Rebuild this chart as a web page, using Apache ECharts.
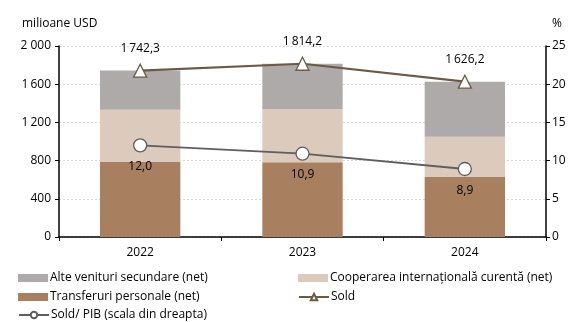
<!DOCTYPE html>
<html><head><meta charset="utf-8">
<script src="https://cdn.jsdelivr.net/npm/echarts@6/dist/echarts.min.js"></script>
<style>html,body{margin:0;padding:0;background:#fff}#c{width:571px;height:322px}</style>
</head><body><div id="c"></div>
<script>
var categories = ['2022', '2023', '2024'];
var transferuri = [785, 782, 628];
var cooperarea = [548, 555, 422];
var alte = [409.3, 477.2, 576.2];
var sold = [1742.3, 1814.2, 1626.2];
var soldPib = [12.0, 10.9, 8.9];

var FONT = 'Open Sans';
function fmt(v, d) {
  var s = v.toFixed(d).replace('.', ',');
  var parts = s.split(',');
  var ip = parts[0];
  if (ip.length > 3) ip = ip.slice(0, ip.length - 3) + '\u2009' + ip.slice(ip.length - 3);
  return parts.length > 1 ? ip + ',' + parts[1] : ip;
}
function leg(name, left, top, icon) {
  var d = {name: name};
  if (icon) d.icon = icon;
  return {
    left: left, top: top, itemWidth: 30, itemHeight: 8, padding: 0,
    textStyle: {fontFamily: FONT, fontSize: 12, color: '#000', padding: [0, 0, 0, -3]},
    data: [d]
  };
}
var chart = echarts.init(document.getElementById('c'));
chart.setOption({
  animation: false,
  textStyle: {fontFamily: FONT},
  grid: {left: 59, right: 25, top: 46, bottom: 85},
  legend: [
    leg('Alte venituri secundare (net)', 18, 272, 'rect'),
    leg('Transferuri personale (net)', 18, 291, 'rect'),
    leg('Sold/ PIB (scala din dreapta)', 18, 309),
    leg('Cooperarea internațională curentă (net)', 298, 272, 'rect'),
    leg('Sold', 298, 291)
  ],
  xAxis: {
    type: 'category', data: categories, boundaryGap: true,
    axisLine: {lineStyle: {color: '#000', width: 1.5}},
    axisTick: {show: true, length: 4, lineStyle: {color: '#000'}},
    axisLabel: {fontFamily: FONT, fontSize: 12, color: '#000', margin: 10}
  },
  yAxis: [{
    type: 'value', min: 0, max: 2000, interval: 400,
    name: 'milioane USD', nameLocation: 'end', nameGap: 16,
    nameTextStyle: {fontFamily: FONT, fontSize: 12, color: '#000', align: 'left', padding: [0, 0, 0, -37]},
    axisLine: {show: true, lineStyle: {color: '#000', width: 1.5}},
    axisTick: {show: true, length: 4, lineStyle: {color: '#000'}},
    axisLabel: {fontFamily: FONT, fontSize: 12, color: '#000', margin: 8,
      formatter: function (v) { return fmt(v, 0).replace('\u2009', v >= 2000 ? ' ' : '\u2009'); }},
    splitLine: {show: true, lineStyle: {color: '#d0d0d0', type: [2, 2], width: 0.8}}
  }, {
    type: 'value', min: 0, max: 25, interval: 5,
    name: '%', nameLocation: 'end', nameGap: 16,
    nameTextStyle: {fontFamily: FONT, fontSize: 12, color: '#000', align: 'left', padding: [0, 0, 0, 6]},
    axisLine: {show: true, lineStyle: {color: '#000', width: 1.5}},
    axisTick: {show: true, length: 4, lineStyle: {color: '#000'}},
    axisLabel: {fontFamily: FONT, fontSize: 12, color: '#000', margin: 6},
    splitLine: {show: false}
  }],
  series: [{
    name: 'Transferuri personale (net)', type: 'bar', stack: 't', barWidth: '49.5%',
    data: transferuri, itemStyle: {color: '#a88060'}
  }, {
    name: 'Cooperarea internațională curentă (net)', type: 'bar', stack: 't',
    data: cooperarea, itemStyle: {color: '#dccbbd'}
  }, {
    name: 'Alte venituri secundare (net)', type: 'bar', stack: 't',
    data: alte, itemStyle: {color: '#aeaaa9'}
  }, {
    name: 'Sold', type: 'line', data: sold, z: 5,
    symbol: 'triangle', symbolSize: 13,
    lineStyle: {color: '#6e5a44', width: 2.2},
    itemStyle: {color: '#fff', borderColor: '#6e5a44', borderWidth: 1.3},
    label: {show: true, position: 'top', distance: 9, fontFamily: FONT, fontSize: 12, color: '#000',
      formatter: function (p) { return fmt(p.value, 1); }}
  }, {
    name: 'Sold/ PIB (scala din dreapta)', type: 'line', yAxisIndex: 1, data: soldPib, z: 5,
    symbol: 'circle', symbolSize: 13,
    lineStyle: {color: '#5e5e5e', width: 1.8},
    itemStyle: {color: '#fff', borderColor: '#5e5e5e', borderWidth: 1.3},
    label: {show: true, position: 'bottom', distance: 8, fontFamily: FONT, fontSize: 12, color: '#000',
      formatter: function (p) { return fmt(p.value, 1); }}
  }]
});
</script></body></html>
